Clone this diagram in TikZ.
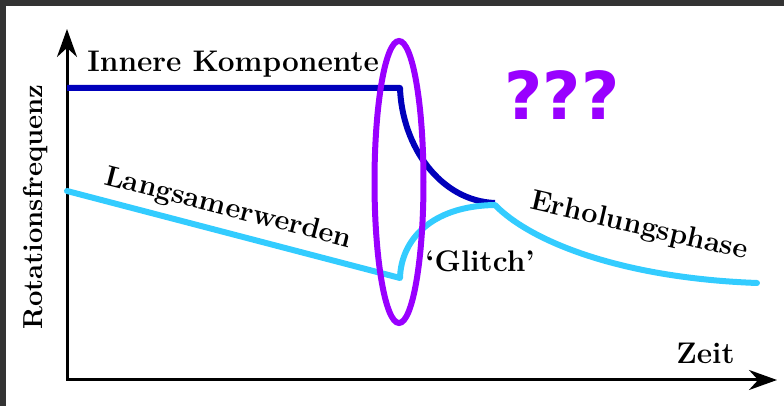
\documentclass[tikz,border=0pt]{standalone}
\usepackage{fontspec}
\newfontfamily\qmarkfont{DejaVu Sans}
\usetikzlibrary{arrows.meta}

\definecolor{innerblue}{HTML}{0000BB}
\definecolor{crustcyan}{HTML}{33CCFF}
\definecolor{glitchviolet}{HTML}{9900FF}
\definecolor{framegray}{HTML}{333333}

\begin{document}
\begin{tikzpicture}[x=5pt, y=5pt, >={Stealth[length=14pt, width=10pt]},
    lbl/.style={font=\bfseries\fontsize{14.9}{18}\selectfont, inner sep=0pt},
    curve/.style={line width=3pt, line cap=round, line join=round}]

    % 0. Rahmen und Bildgrenzen
    \useasboundingbox (0,0) rectangle (78.4,40.6);
    \fill[framegray] (0,40) rectangle (78.4,40.6);
    \fill[framegray] (0,0) rectangle (0.6,40.6);

    % 1. Achsen
    \draw[<->, line width=1.5pt] (6.7,37.7) |- (77.7,2.6);
    \node[lbl, font=\bfseries\fontsize{13.7}{16}\selectfont, rotate=90, anchor=base west]
          (yl) at (4.2,7.6) {Rotationsfrequenz};
    \node[lbl, anchor=base west] (xl) at (67.6,4.2) {Zeit};

    % 2. Innere Komponente (dunkelblau)
    \draw[curve, innerblue, line cap=butt] (6.7,31.8) -- (40.0,31.8)
          .. controls (40.2,26.0) and (44.0,20.5) .. (49.5,20.3);
    \node[lbl, anchor=base west] (inner) at (8.7,33.4) {Innere Komponente};

    % 3. Kruste: Langsamerwerden, Glitch, Erholung (hellblau)
    \draw[curve, crustcyan] (6.7,21.5) -- (40.0,12.8)
          .. controls (40.1,16.5) and (43.0,20.0) .. (49.5,20.1)
          .. controls (53.0,16.5) and (62.0,12.8) .. (75.7,12.3);
    \node[lbl, font=\Large\bfseries, rotate=-14.5] (slow) at (22.8,19.7) {Langsamerwerden};
    \node[lbl, anchor=base west] (glitch) at (42.5,13.4) {`Glitch'};
    \node[lbl, font=\Large\bfseries, rotate=-13] (recov) at (63.9,17.9) {Erholungsphase};

    % 4. Markierung des Glitch
    \draw[glitchviolet, line width=3pt] (39.9,22.4) ellipse (2.45 and 14.1);
    \node[text=glitchviolet, font=\qmarkfont\bfseries\fontsize{33}{38}\selectfont]
          (qq) at (56.2,31.1) {???};

\end{tikzpicture}
\end{document}
